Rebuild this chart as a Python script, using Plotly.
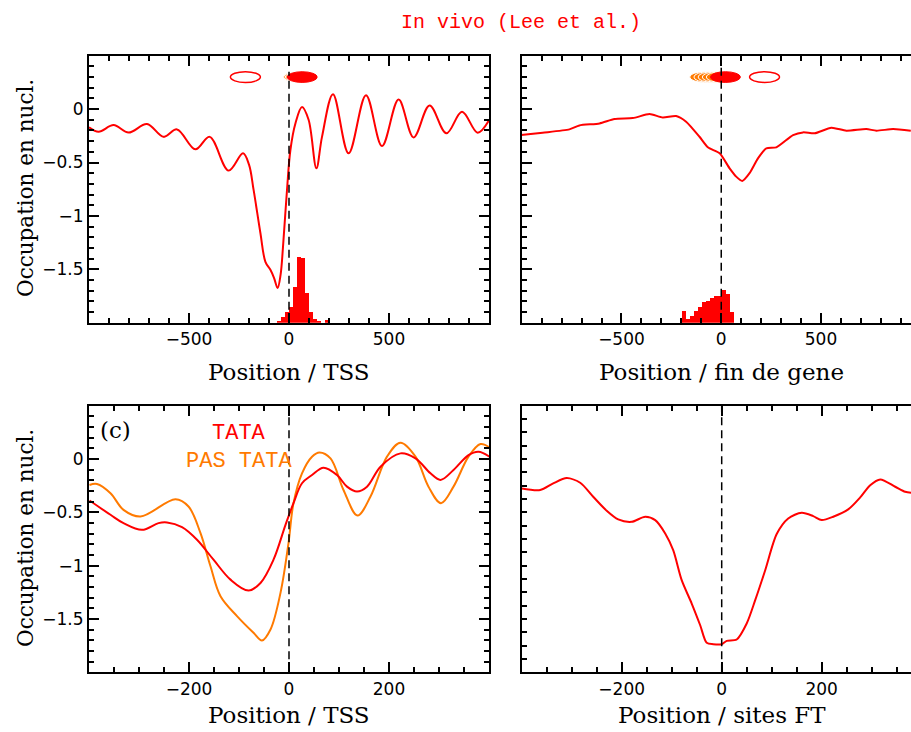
import plotly.graph_objects as go

# ---------------- data ----------------
# (a) nucleosome occupancy around TSS
tss_x = [-1000, -952, -877, -802, -710, -627, -560, -468, -397, -302, -230, -200, -177, -143, -118,
         -93, -75, -57, -42, -30, -10, 7, 32, 65, 98, 137, 165, 220, 298, 385, 465, 548, 623, 703,
         787, 865, 943, 1000]
tss_y = [-0.17, -0.212, -0.15, -0.22, -0.14, -0.26, -0.19, -0.377, -0.26, -0.576, -0.414, -0.52,
         -0.757, -1.16, -1.43, -1.505, -1.58, -1.676, -1.55, -1.29, -0.757, -0.383, -0.134, 0.02,
         -0.10, -0.555, -0.26, 0.14, -0.414, 0.13, -0.346, 0.09, -0.265, 0.034, -0.227, -0.025,
         -0.221, -0.105]
tss_hist_x = [-50, -30, -10, 10, 30, 50, 70, 90, 110, 130, 150, 190]
tss_hist_h = [0.015, 0.053, 0.10, 0.15, 0.333, 0.617, 0.607, 0.28, 0.10, 0.037, 0.021, 0.025]

# (b) occupancy around gene end
end_x = [-1003, -895, -761, -711, -610, -535, -443, -360, -293, -226, -176, -109, -67, -8, 42, 75,
         105, 142, 184, 226, 276, 360, 410, 468, 552, 627, 727, 778, 861, 950]
end_y = [-0.243, -0.221, -0.19, -0.153, -0.134, -0.093, -0.084, -0.047, -0.078, -0.065, -0.118,
         -0.259, -0.358, -0.414, -0.555, -0.632, -0.673, -0.60, -0.461, -0.368, -0.358, -0.243,
         -0.218, -0.227, -0.174, -0.202, -0.187, -0.202, -0.187, -0.202]
end_hist_x = [-190, -170, -150, -130, -110, -90, -70, -50, -30, -10, 10, 30, 50]
end_hist_h = [0.112, 0.037, 0.065, 0.109, 0.152, 0.20, 0.21, 0.234, 0.255, 0.255, 0.308, 0.27, 0.106]

# (c) TATA vs PAS TATA
tata_x = [-399, -357, -331, -294, -261, -244, -214, -184, -151, -117, -81, -57, -31, -7, 9, 26, 46,
          69, 96, 116, 136, 156, 183, 223, 253, 283, 303, 329, 359, 379, 401]
tata_y = [-0.389, -0.523, -0.601, -0.664, -0.601, -0.595, -0.639, -0.757, -0.944, -1.131, -1.234,
          -1.162, -0.944, -0.617, -0.414, -0.227, -0.15, -0.081, -0.15, -0.259, -0.305, -0.259,
          -0.072, 0.053, 0.006, -0.134, -0.196, -0.103, 0.037, 0.069, 0.022]
pas_x = [-399, -384, -357, -331, -297, -227, -201, -177, -157, -137, -104, -71, -54, -37, -17,
         -1, 9, 26, 46, 61, 83, 109, 137, 163, 196, 223, 253, 279, 304, 329, 359, 383, 401]
pas_y = [-0.243, -0.234, -0.321, -0.477, -0.539, -0.377, -0.445, -0.695, -1.006, -1.287,
         -1.473, -1.629, -1.701, -1.598, -1.255, -0.788, -0.414, -0.134, 0.022, 0.062, 0.006, -0.29,
         -0.53, -0.352, 0.022, 0.153, 0.022, -0.259, -0.414, -0.259, 0.022, 0.14, 0.109]

# (d) occupancy around TF sites
ft_x = [-400, -363, -337, -310, -283, -257, -230, -207, -180, -153, -133, -113, -97, -80, -60, -43,
        -30, -17, 0, 10, 30, 50, 67, 87, 110, 133, 160, 183, 200, 223, 253, 277, 297, 317, 347,
        367, 379]
ft_y = [-0.621, -0.633, -0.583, -0.543, -0.578, -0.683, -0.788, -0.853, -0.871, -0.833, -0.858,
        -0.958, -1.084, -1.309, -1.484, -1.647, -1.779, -1.789, -1.789, -1.764, -1.754, -1.634,
        -1.459, -1.234, -0.963, -0.846, -0.803, -0.828, -0.858, -0.833, -0.778, -0.688, -0.596,
        -0.553, -0.608, -0.646, -0.653]

# nucleosome ellipse centres
tl_open_c = [-218]
tl_orange_c = [48, 56, 64]
tl_red_c = [66]
tr_orange_c = [-83, -62, -41, -20, 0]
tr_red_c = [21]
tr_open_c = [217]

RED = "#ff0000"
ORANGE = "#ff7a00"
W, H = 911, 732


def px_x(p):
    return p / W


def px_y(p):
    return 1 - p / H


fig = go.Figure()

# histograms
fig.add_trace(go.Bar(x=tss_hist_x, y=tss_hist_h, base=-2, width=20, marker=dict(color=RED, line_width=0),
                     xaxis="x", yaxis="y", showlegend=False))
fig.add_trace(go.Bar(x=end_hist_x, y=end_hist_h, base=-2, width=20, marker=dict(color=RED, line_width=0),
                     xaxis="x2", yaxis="y2", showlegend=False))

line_kw = dict(mode="lines", showlegend=False, hoverinfo="skip")
fig.add_trace(go.Scatter(x=tss_x, y=tss_y, line=dict(color=RED, width=2, shape="spline", smoothing=1.0),
                         xaxis="x", yaxis="y", **line_kw))
fig.add_trace(go.Scatter(x=end_x, y=end_y, line=dict(color=RED, width=2, shape="spline", smoothing=0.6),
                         xaxis="x2", yaxis="y2", **line_kw))
fig.add_trace(go.Scatter(x=pas_x, y=pas_y, line=dict(color=ORANGE, width=2, shape="spline", smoothing=1.0),
                         xaxis="x3", yaxis="y3", **line_kw))
fig.add_trace(go.Scatter(x=tata_x, y=tata_y, line=dict(color=RED, width=2, shape="spline", smoothing=1.0),
                         xaxis="x3", yaxis="y3", **line_kw))
fig.add_trace(go.Scatter(x=ft_x, y=ft_y, line=dict(color=RED, width=2, shape="spline", smoothing=0.8),
                         xaxis="x4", yaxis="y4", **line_kw))

tickfont = dict(family="DejaVu Sans", size=17, color="black")


def axis(domain, rng, tickvals, ticktext, minor_dtick, mirror=True, labels=True):
    return dict(domain=domain, range=rng, showline=True, linecolor="black", linewidth=2,
                ticks="inside", ticklen=10, tickwidth=1.5, tickcolor="black",
                mirror="allticks" if mirror else False, showgrid=False, zeroline=False,
                tickmode="array", tickvals=tickvals, ticktext=ticktext, showticklabels=labels,
                tickfont=tickfont,
                minor=dict(ticks="inside", ticklen=5, tickwidth=1.5, tickcolor="black",
                           dtick=minor_dtick, showgrid=False))


xl = [px_x(89), px_x(489)]
xr = [px_x(521.7), 1.0]
yt = [px_y(322.7), px_y(55.7)]
yb = [px_y(672.3), px_y(405.7)]

yvals = [-2, -1.5, -1, -0.5, 0, 0.5]
ytext = ["", "\u22121.5", "\u22121", "\u22120.5", "0", ""]

fig.update_layout(
    width=W, height=H, margin=dict(l=0, r=0, t=0, b=0),
    paper_bgcolor="white", plot_bgcolor="white", bargap=0,
    xaxis=axis(xl, [-1000, 1000], [-1000, -500, 0, 500, 1000], ["", "\u2212500", "0", "500", ""], 100),
    yaxis=axis(yt, [-2, 0.5], yvals, ytext, 0.1),
    xaxis2=axis(xr, [-1000, 951], [-1000, -500, 0, 500], ["", "\u2212500", "0", "500"], 100),
    yaxis2=axis(yt, [-2, 0.5], yvals, ytext, 0.1, mirror=False, labels=False),
    xaxis3=axis(xl, [-400, 400], [-400, -200, 0, 200, 400], ["", "\u2212200", "0", "200", ""], 50),
    yaxis3=axis(yb, [-2, 0.5], yvals, ytext, 0.1),
    xaxis4=axis(xr, [-400, 378.6], [-400, -200, 0, 200], ["", "\u2212200", "0", "200"], 50),
    yaxis4=axis(yb, [-2, 0], [-2, -1.5, -1, -0.5, 0], ["", "", "", "", ""], 0.1, mirror=False, labels=False),
)
fig.update_layout(xaxis=dict(anchor="y"), yaxis=dict(anchor="x"),
                  xaxis2=dict(anchor="y2"), yaxis2=dict(anchor="x2"),
                  xaxis3=dict(anchor="y3"), yaxis3=dict(anchor="x3"),
                  xaxis4=dict(anchor="y4"), yaxis4=dict(anchor="x4"))

shapes = []
EW = 150
EH = 0.05


def ell(xr_, yr_, c, fill=None, line=RED, lw=1.5):
    return dict(type="circle", xref=xr_, yref=yr_, x0=c - EW / 2, x1=c + EW / 2, y0=0.3 - EH, y1=0.3 + EH,
                fillcolor=fill if fill else "rgba(0,0,0,0)", line=dict(color=line, width=lw), layer="above")


for c in tl_open_c:
    shapes.append(ell("x", "y", c, None, RED, 1.5))
for c in tl_orange_c:
    shapes.append(ell("x", "y", c, ORANGE, "white", 1))
for c in tl_red_c:
    shapes.append(ell("x", "y", c, RED, RED, 1))
for c in tr_orange_c:
    shapes.append(ell("x2", "y2", c, ORANGE, "white", 1))
for c in tr_red_c:
    shapes.append(ell("x2", "y2", c, RED, RED, 1))
for c in tr_open_c:
    shapes.append(ell("x2", "y2", c, None, RED, 1.5))

dash = dict(color="black", width=1.5, dash="8px,5px")
shapes.append(dict(type="line", xref="x", yref="y", x0=0, x1=0, y0=-2, y1=0.35, line=dash, layer="above"))
shapes.append(dict(type="line", xref="x2", yref="y2", x0=0, x1=0, y0=-2, y1=0.5, line=dash, layer="above"))
shapes.append(dict(type="line", xref="x3", yref="y3", x0=0, x1=0, y0=-2, y1=0.5, line=dash, layer="above"))
shapes.append(dict(type="line", xref="x4", yref="y4", x0=0, x1=0, y0=-2, y1=0, line=dash, layer="above"))
fig.update_layout(shapes=shapes)

xlab = dict(family="DejaVu Serif", size=23, color="black")
ylab = dict(family="DejaVu Serif", size=21.5, color="black")
ann = []
ann.append(dict(text="In vivo (Lee et al.)", xref="paper", yref="paper", x=px_x(520.5), y=px_y(22),
                showarrow=False, font=dict(family="Liberation Mono", size=20, color=RED),
                xanchor="center", yanchor="middle"))
for xa, txt, ypix in [("x", "Position / TSS", 372), ("x2", "Position / fin de gene", 372),
                      ("x3", "Position / TSS", 715), ("x4", "Position / sites FT", 715)]:
    ann.append(dict(text=txt, xref=xa, yref="paper", x=0, y=px_y(ypix), showarrow=False, font=xlab,
                    xanchor="center", yanchor="middle"))
for ypix in [188, 538]:
    ann.append(dict(text="Occupation en nucl.", xref="paper", yref="paper", x=px_x(25), y=px_y(ypix),
                    showarrow=False, font=ylab, textangle=-90, xanchor="center", yanchor="middle"))
ann.append(dict(text="(c)", xref="x3", yref="y3", x=-347, y=0.27, showarrow=False,
                font=dict(family="DejaVu Serif", size=23, color="black"),
                xanchor="center", yanchor="middle"))
ann.append(dict(text="TATA", xref="x3", yref="y3", x=-101, y=0.243, showarrow=False,
                font=dict(family="Liberation Mono", size=22, color=RED), xanchor="center", yanchor="middle"))
ann.append(dict(text="PAS TATA", xref="x3", yref="y3", x=-101, y=-0.019, showarrow=False,
                font=dict(family="Liberation Mono", size=22, color=ORANGE), xanchor="center", yanchor="middle"))
fig.update_layout(annotations=ann)

fig.write_html("out.html")
